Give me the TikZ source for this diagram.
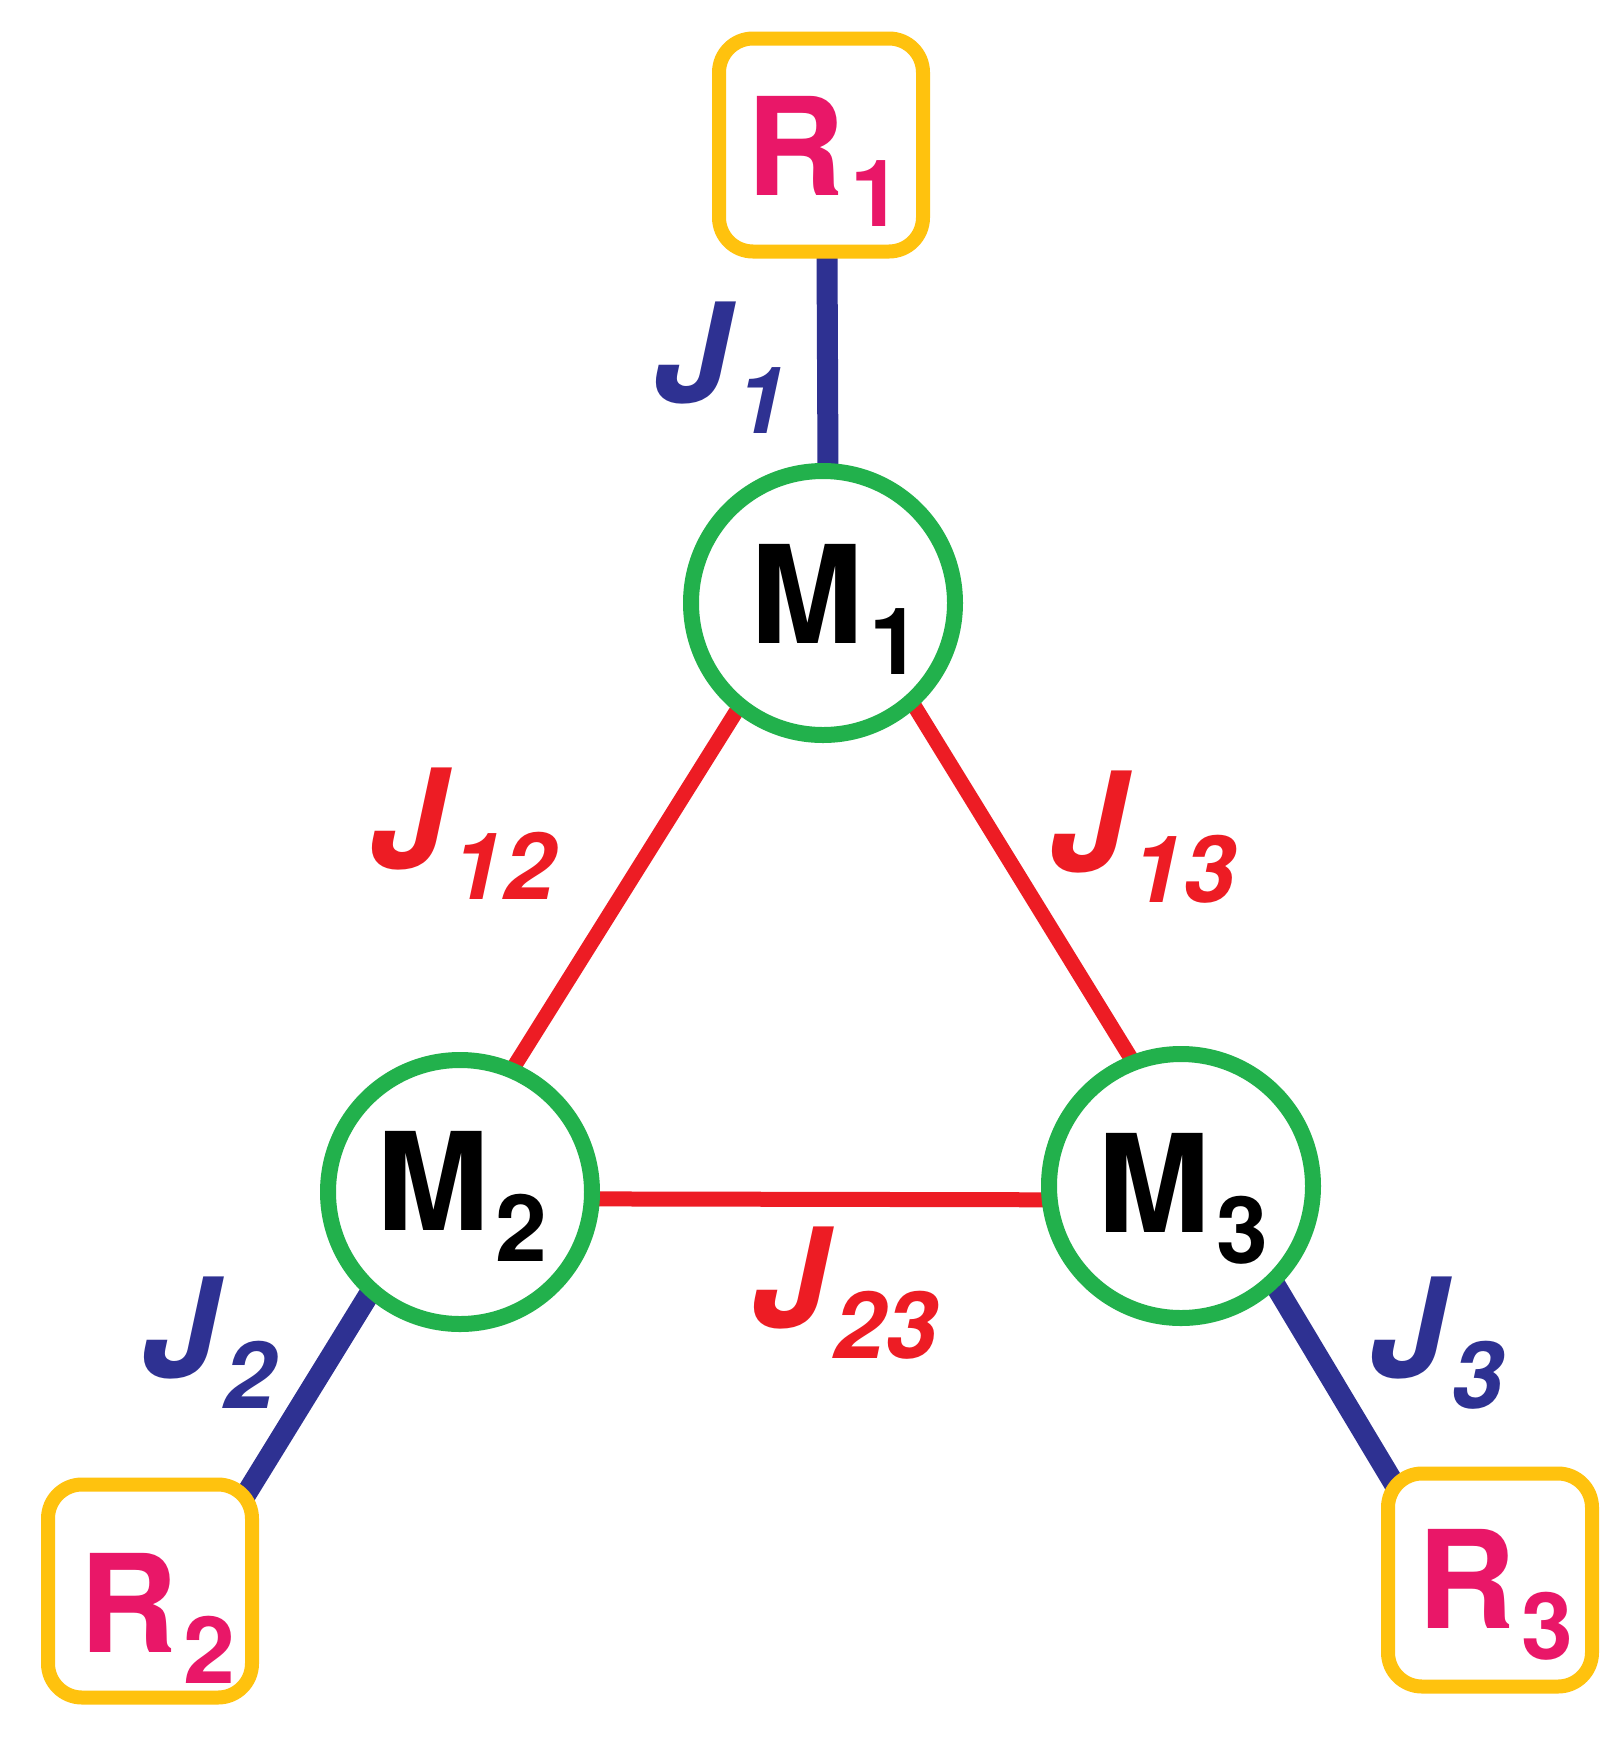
\documentclass[tikz,border=0pt]{standalone}
\usepackage{fontspec}
\setmainfont{TeX Gyre Heros}
\usetikzlibrary{backgrounds,calc}
\definecolor{cgold}{HTML}{FFC20E}
\definecolor{cpink}{HTML}{E91768}
\definecolor{cblue}{HTML}{2E3192}
\definecolor{cred}{HTML}{ED1C24}
\definecolor{cgreen}{HTML}{22B14C}
\newcommand\lsub[1]{\kern6pt\raisebox{-31pt}{\fontsize{93}{93}\selectfont #1}}
\tikzset{
 mnode/.style={circle, draw=cgreen, line width=16pt, fill=white, minimum size=264pt, inner sep=0pt, outer sep=0pt},
 rnode/.style={rectangle, rounded corners=34pt, draw=cgold, line width=14pt, fill=white, minimum width=204pt, minimum height=213pt, inner sep=0pt, outer sep=0pt},
 mtext/.style={anchor=base west, inner sep=0pt, font=\fontsize{136}{136}\selectfont\bfseries},
 rtext/.style={mtext, text=cpink},
 jtext/.style={anchor=base west, inner sep=0pt, font=\fontsize{138}{138}\selectfont\bfseries\itshape},
 jb/.style={jtext, text=cblue},
 jr/.style={jtext, text=cred},
 bline/.style={draw=cblue, line width=21pt},
 rline/.style={draw=cred, line width=15pt},
}
\begin{document}
\begin{tikzpicture}[x=1pt,y=-1pt]
\useasboundingbox (0,0) rectangle (1622,1746);
% boxes and circles
\node[rnode] (R1) at (821,145) {};
\node[rnode] (R2) at (150,1591) {};
\node[rnode] (R3) at (1490,1580) {};
\node[mnode] (M1) at (823,603) {};
\node[mnode] (M2) at (460,1192) {};
\node[mnode] (M3) at (1181,1186) {};
% texts
\node[rtext] (R1t) at (746,195) {R\lsub{1}};
\node[rtext] (R2t) at (79,1652) {R\lsub{2}};
\node[rtext] (R3t) at (1417,1628) {R\lsub{3}};
\node[mtext] (M1t) at (750,643) {M\lsub{1}};
\node[mtext] (M2t) at (376,1230) {M\lsub{2}};
\node[mtext] (M3t) at (1097,1232) {M\lsub{3}};
\node[jb] (J1) at (653,402) {J\lsub{1}};
\node[jb] (J2) at (141,1377) {J\lsub{2}};
\node[jb] (J3) at (1369,1377) {J\lsub{3}};
\node[jr] (J12) at (369,868) {J\lsub{12}};
\node[jr] (J13) at (1049,871) {J\lsub{13}};
\node[jr] (J23) at (751,1327) {J\lsub{23}};
% connectors
\begin{pgfonlayer}{background}
\fill[white] (0,0) rectangle (1622,1746);
\draw[bline] ([xshift=6pt]R1.south) -- ([xshift=5pt]M1.north);
\draw[bline] (M2.228) -- ($(M2.228)!1.1!(R2.north east)$);
\draw[bline] (M3.-46) -- ($(M3.-46)!1.1!(R3.north west)$);
\draw[rline] (M1.231) -- (M2.67);
\draw[rline] (M1.-48) -- (M3.111);
\draw[rline] (M2.-3.4) -- (M3.186);
\end{pgfonlayer}
\end{tikzpicture}
\end{document}
